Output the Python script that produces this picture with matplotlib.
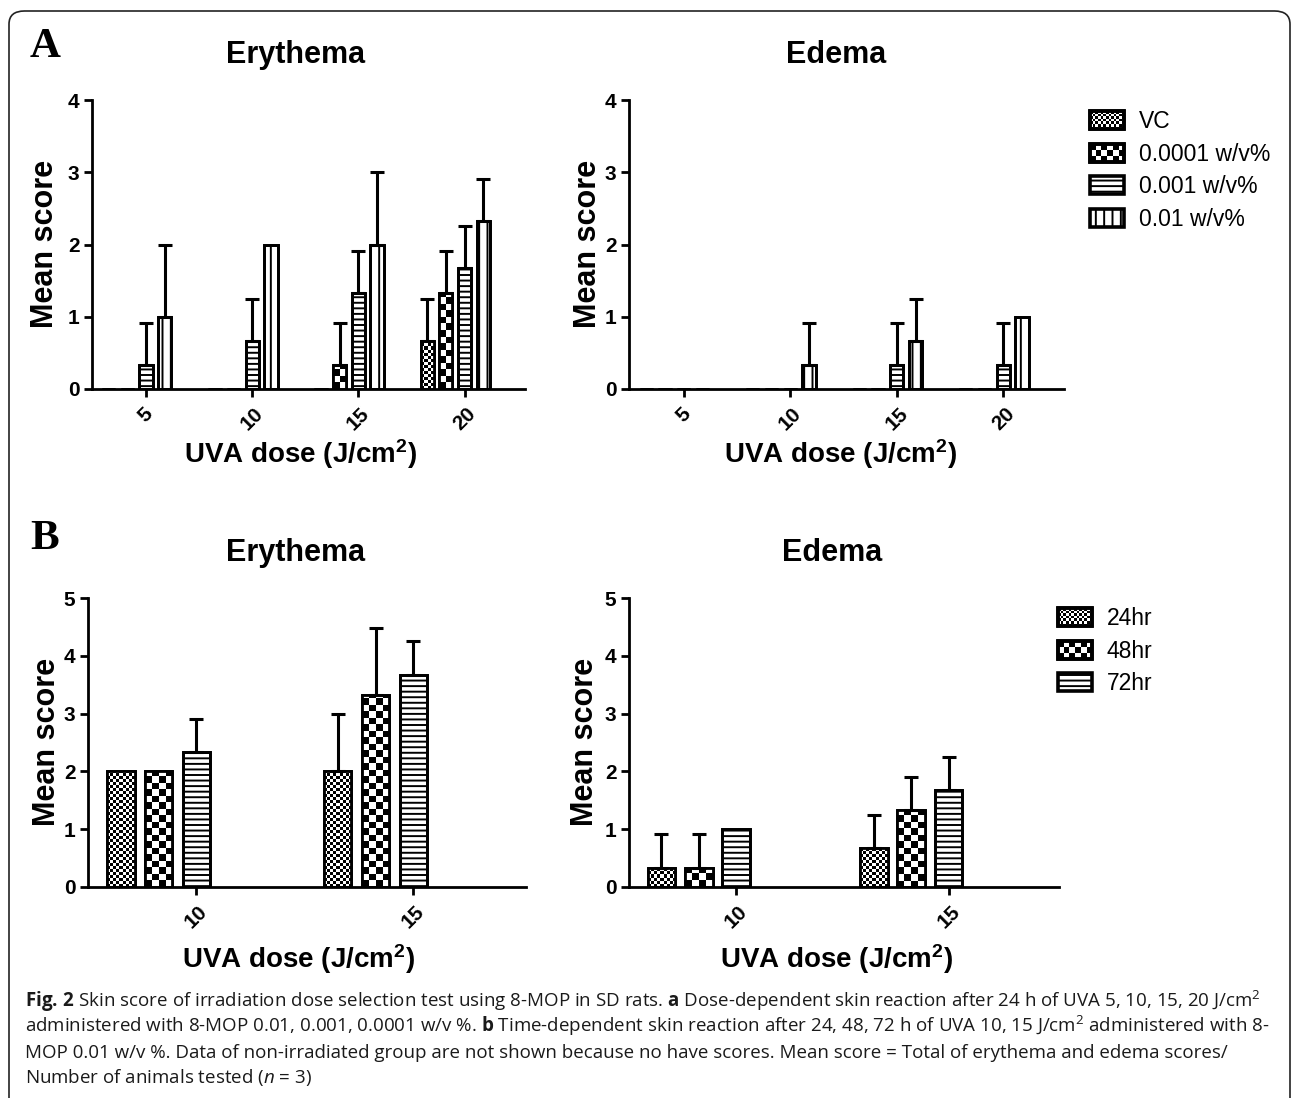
"""
Fig. 2 - skin score of the irradiation dose selection test (8-MOP, SD rats).
Four GraphPad-style grouped bar panels, hatched bars + upper SD error bars.
"""

import numpy as np
import matplotlib
matplotlib.use("Agg")
import matplotlib.pyplot as plt
from matplotlib.patches import Rectangle, FancyBboxPatch
from matplotlib.legend_handler import HandlerBase

W, H = 1292, 1098

plt.rcParams["hatch.linewidth"] = 1.4
plt.rcParams["mathtext.fontset"] = "custom"
plt.rcParams["mathtext.rm"] = "Open Sans"
plt.rcParams["mathtext.it"] = "Open Sans:italic"
plt.rcParams["mathtext.bf"] = "Liberation Sans:bold"   # superscript in axis labels
plt.rcParams["mathtext.sf"] = "Open Sans:bold"         # bold bits of the caption

# --- data -------------------------------------------------------------------
A_DOSES = ["5", "10", "15", "20"]
A_GROUPS = ["VC", "0.0001 w/v%", "0.001 w/v%", "0.01 w/v%"]
# rows = group (VC, 0.0001, 0.001, 0.01), cols = dose
A_ERY_MEAN = [[0, 0, 0, 0.67],
              [0, 0, 0.33, 1.33],
              [0.33, 0.67, 1.33, 1.67],
              [1.0, 2.0, 2.0, 2.33]]
A_ERY_SD = [[0, 0, 0, 0.58],
            [0, 0, 0.58, 0.58],
            [0.58, 0.58, 0.58, 0.58],
            [1.0, 0, 1.0, 0.58]]
A_EDE_MEAN = [[0, 0, 0, 0],
              [0, 0, 0, 0],
              [0, 0, 0.33, 0.33],
              [0, 0.33, 0.67, 1.0]]
A_EDE_SD = [[0, 0, 0, 0],
            [0, 0, 0, 0],
            [0, 0, 0.58, 0.58],
            [0, 0.58, 0.58, 0]]

B_DOSES = ["10", "15"]
B_GROUPS = ["24hr", "48hr", "72hr"]
B_ERY_MEAN = [[2.0, 2.0], [2.0, 3.33], [2.33, 3.67]]
B_ERY_SD = [[0, 1.0], [0, 1.15], [0.58, 0.58]]
B_EDE_MEAN = [[0.33, 0.67], [0.33, 1.33], [1.0, 1.67]]
B_EDE_SD = [[0.58, 0.58], [0.58, 0.58], [0, 0.58]]

# pattern per group position: fine checker, coarse checker, horizontal, vertical
PATTERNS = ["fine", "checker", "hlines", "vlines"]
HATCH = {"fine": "", "checker": "", "hlines": "---", "vlines": "||"}
CELL = {"fine": 3.0, "checker": 6.5}

INK = "black"
LW = 2.0


def fx(px):
    return px / W


def fy(py):
    return 1 - py / H


def add_axes(x0, x1, ytop, ybot):
    return fig.add_axes([fx(x0), fy(ybot), (x1 - x0) / W, (ybot - ytop) / H])


def add_checker(ax, bar, cell):
    h = bar.get_height()
    if h <= 0:
        return
    x0, w = bar.get_x(), bar.get_width()
    (px0, py0), (px1, py1) = ax.transData.transform([(x0, 0), (x0 + w, h)])
    nx = max(1, int(round((px1 - px0) / cell)))
    ny = int(np.ceil((py1 - py0) / cell))
    per_px = h / (py1 - py0)
    arr = np.add.outer(np.arange(ny), np.arange(nx)) % 2
    im = ax.imshow(arr, cmap="gray", vmin=0, vmax=1, origin="lower",
                   extent=(x0, x0 + w, 0, ny * cell * per_px),
                   interpolation="nearest", aspect="auto", zorder=2.5)
    im.set_clip_path(bar)


def bar_panel(ax, means, sds, doses, pitch, width, xlim, ymax):
    ax.set_xlim(*xlim)
    ax.set_ylim(0, ymax)
    x = np.arange(len(doses))
    n = len(means)
    for k in range(n):
        pat = PATTERNS[k]
        pos = x + (k - (n - 1)) * pitch if n == 3 else x + (k - 2) * pitch
        vals = np.array(means[k], dtype=float)
        errs = np.array(sds[k], dtype=float)
        bars = ax.bar(pos, vals, width, facecolor="white", edgecolor=INK,
                      linewidth=LW, hatch=HATCH[pat], zorder=2)
        if pat in CELL:
            for b in bars:
                add_checker(ax, b, CELL[pat])
        ax.bar(pos, vals, width, fill=False, edgecolor=INK, linewidth=LW, zorder=3)
        m = errs > 0
        if m.any():
            ax.errorbar(pos[m], vals[m], yerr=[np.zeros(m.sum()), errs[m]],
                        fmt="none", ecolor=INK, elinewidth=2.2, capsize=5,
                        capthick=2.2, zorder=4)
    ax.set_xlim(*xlim)
    ax.set_ylim(0, ymax)
    for s in ("top", "right"):
        ax.spines[s].set_visible(False)
    for s in ("left", "bottom"):
        ax.spines[s].set_linewidth(LW)
    ax.set_xticks(x)
    ax.set_xticklabels(doses, rotation=45, ha="center", va="top",
                       fontsize=15, fontweight="bold", family="Liberation Sans")
    ax.set_yticks(range(ymax + 1))
    ax.set_yticklabels([str(v) for v in range(ymax + 1)], fontsize=15,
                       fontweight="bold", family="Liberation Sans")
    ax.tick_params(axis="both", direction="out", length=6, width=LW, pad=3)
    ax.tick_params(axis="x", pad=5)


class PatternKey:
    def __init__(self, pat):
        self.pat = pat


class PatternHandler(HandlerBase):
    def create_artists(self, legend, orig, xdescent, ydescent, width, height,
                       fontsize, trans):
        x0, y0 = -xdescent, -ydescent
        arts = []
        box = Rectangle((x0, y0), width, height, facecolor="white",
                        edgecolor=INK, linewidth=2.6, hatch=HATCH[orig.pat],
                        transform=trans)
        arts.append(box)
        if orig.pat in CELL:
            c = CELL[orig.pat] * 72 / 100 * 0.9
            nx = int(round(width / c))
            ny = int(round(height / c))
            cw, ch = width / nx, height / ny
            for i in range(ny):
                for j in range(nx):
                    if (i + j) % 2 == 0:
                        arts.append(Rectangle((x0 + j * cw, y0 + i * ch), cw, ch,
                                              facecolor=INK, edgecolor="none",
                                              transform=trans))
            arts.append(Rectangle((x0, y0), width, height, fill=False,
                                  edgecolor=INK, linewidth=2.6, transform=trans))
        return arts


fig = plt.figure(figsize=(W / 100, H / 100), dpi=100)

# rounded frame around the figure
frame = FancyBboxPatch((fx(9), fy(1130)), fx(1281), (1130 - 11) / H,
                       boxstyle="round,pad=0,rounding_size=0.012",
                       transform=fig.transFigure, fill=False,
                       edgecolor="#222222", linewidth=1.2)
fig.patches.append(frame)

axA1 = add_axes(92, 525, 100, 389)
axA2 = add_axes(629, 1064, 100, 389)
axB1 = add_axes(88, 526, 598, 887)
axB2 = add_axes(629, 1059, 598, 887)

bar_panel(axA1, A_ERY_MEAN, A_ERY_SD, A_DOSES, 0.176, 0.125, (-0.51, 3.57), 4)
bar_panel(axA2, A_EDE_MEAN, A_EDE_SD, A_DOSES, 0.176, 0.125, (-0.515, 3.57), 4)
bar_panel(axB1, B_ERY_MEAN, B_ERY_SD, B_DOSES, 0.174, 0.125, (-0.5, 1.52), 5)
bar_panel(axB2, B_EDE_MEAN, B_EDE_SD, B_DOSES, 0.176, 0.13, (-0.505, 1.52), 5)

# panel letters, titles, axis labels
tkw = dict(fontsize=22, fontweight="bold", family="Liberation Sans",
           ha="center", va="baseline")
fig.text(fx(30), fy(57), "A", fontsize=31, fontweight="bold",
         family="Liberation Serif", ha="left", va="baseline")
fig.text(fx(30), fy(549), "B", fontsize=31, fontweight="bold",
         family="Liberation Serif", ha="left", va="baseline")
fig.text(fx(296), fy(63), "Erythema", **tkw)
fig.text(fx(836), fy(63), "Edema", **tkw)
fig.text(fx(296), fy(561), "Erythema", **tkw)
fig.text(fx(832), fy(561), "Edema", **tkw)

xl = "UVA dose (J/cm$^{\\mathbf{2}}$)"
lkw = dict(fontsize=20, fontweight="bold", family="Liberation Sans",
           ha="center", va="baseline")
fig.text(fx(300), fy(463), xl, **lkw)
fig.text(fx(840), fy(463), xl, **lkw)
fig.text(fx(298), fy(968), xl, **lkw)
fig.text(fx(836), fy(968), xl, **lkw)

ykw = dict(fontsize=22, fontweight="bold", family="Liberation Sans",
           ha="center", va="center", rotation=90)
fig.text(fx(45), fy(244), "Mean score", **ykw)
fig.text(fx(588), fy(244), "Mean score", **ykw)
fig.text(fx(47), fy(742), "Mean score", **ykw)
fig.text(fx(585), fy(742), "Mean score", **ykw)

# legends
legkw = dict(handler_map={PatternKey: PatternHandler()}, frameon=False,
             prop={"family": "Liberation Sans", "size": 16.5},
             handlelength=1.5, handleheight=0.85, handletextpad=0.62,
             labelspacing=0.42, borderpad=0, borderaxespad=0,
             loc="upper left", bbox_transform=fig.transFigure)
fig.legend([PatternKey(p) for p in PATTERNS], A_GROUPS,
           bbox_to_anchor=(fx(1090), fy(110)), **legkw)
fig.legend([PatternKey(p) for p in PATTERNS[:3]], B_GROUPS,
           bbox_to_anchor=(fx(1058), fy(607)), **legkw)

# caption
ckw = dict(fontsize=13.5, family="Open Sans", ha="left", va="baseline",
           color="#1a1a1a")
caption = [
    "$\\mathsf{Fig.\\,2}$ Skin score of irradiation dose selection test using 8-MOP in SD rats. "
    "$\\mathsf{a}$ Dose-dependent skin reaction after 24 h of UVA 5, 10, 15, 20 J/cm$^2$",
    "administered with 8-MOP 0.01, 0.001, 0.0001 w/v %. $\\mathsf{b}$ Time-dependent skin "
    "reaction after 24, 48, 72 h of UVA 10, 15 J/cm$^2$ administered with 8-",
    "MOP 0.01 w/v %. Data of non-irradiated group are not shown because no have scores. "
    "Mean score = Total of erythema and edema scores/",
    "Number of animals tested ($\\mathit{n}$ = 3)",
]
for i, line in enumerate(caption):
    fig.text(fx(25), fy(1007 + i * 25.5), line, **ckw)

fig.savefig("out.png", dpi=100)
